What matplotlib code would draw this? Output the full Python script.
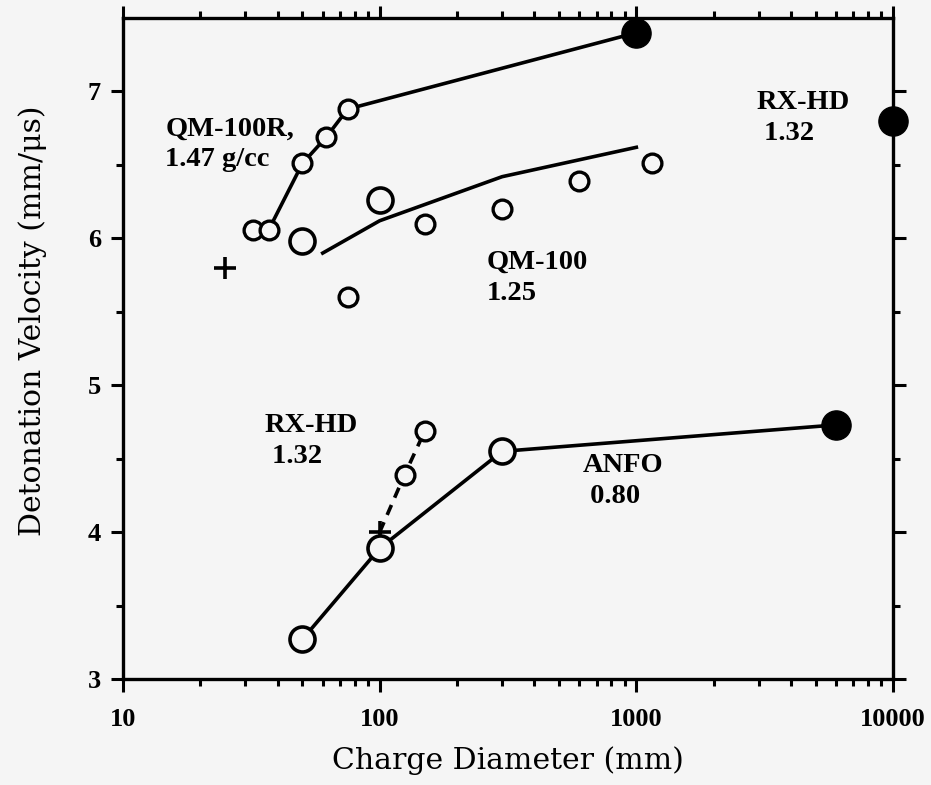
import matplotlib.pyplot as plt
from matplotlib.ticker import FixedLocator, NullFormatter

plt.rcParams['font.family'] = ['DejaVu Serif']

BG = '#f5f5f5'

# QM-100R, 1.47 g/cc (small open circles)
qm100r_d = [32, 37, 50, 62, 75]
qm100r_v = [6.06, 6.06, 6.51, 6.69, 6.88]
# solid line through QM-100R to the filled point at 1000 mm
qm100r_line_d = [37, 50, 62, 75, 1000]
qm100r_line_v = [6.06, 6.51, 6.69, 6.88, 7.40]
qm100r_big_d = [1000]
qm100r_big_v = [7.40]

# QM-100, 1.25 g/cc
qm100_large_d = [50, 100]
qm100_large_v = [5.98, 6.26]
qm100_small_d = [75, 150, 300, 600, 1150]
qm100_small_v = [5.60, 6.10, 6.20, 6.39, 6.51]
qm100_fit_d = [60, 100, 300, 1000]
qm100_fit_v = [5.90, 6.12, 6.42, 6.62]

# single cross near 25 mm
cross_d = [25]
cross_v = [5.80]

# RX-HD 1.32 (large scale)
rxhd_big_d = [10000]
rxhd_big_v = [6.80]

# RX-HD 1.32 (small charges, dashed)
rxhd_d = [100, 125, 150]
rxhd_v = [4.00, 4.39, 4.69]

# ANFO 0.80
anfo_d = [50, 100, 300]
anfo_v = [3.27, 3.89, 4.55]
anfo_big_d = [6000]
anfo_big_v = [4.73]

fig = plt.figure(figsize=(9.31, 7.85), dpi=100, facecolor=BG)
ax = fig.add_axes([0.1321, 0.135, 0.8271, 0.842])
ax.set_facecolor(BG)

lw = 2.6
open_small = dict(marker='o', ms=13.5, mfc=BG, mec='black', mew=2.4, ls='none', zorder=4)
open_large = dict(marker='o', ms=18, mfc=BG, mec='black', mew=2.6, ls='none', zorder=4)
filled = dict(marker='o', ms=21, mfc='black', mec='black', ls='none', zorder=4)

# QM-100R
ax.plot(qm100r_line_d, qm100r_line_v, color='black', lw=lw, zorder=2)
ax.plot(qm100r_d, qm100r_v, **open_small)
ax.plot(qm100r_big_d, qm100r_big_v, **filled)

# QM-100
ax.plot(qm100_fit_d, qm100_fit_v, color='black', lw=lw, zorder=2)
ax.plot(qm100_large_d, qm100_large_v, **open_large)
ax.plot(qm100_small_d, qm100_small_v, **open_small)

ax.plot(cross_d, cross_v, marker='+', ms=16, mew=2.6, color='black', ls='none')

# RX-HD
ax.plot(rxhd_big_d, rxhd_big_v, clip_on=False, **filled)
ax.plot(rxhd_d, rxhd_v, color='black', lw=lw, ls=(0, (3, 2.2)), zorder=2)
ax.plot(rxhd_d[:1], rxhd_v[:1], marker='+', ms=16, mew=2.6, color='black', ls='none')
ax.plot(rxhd_d[1:], rxhd_v[1:], **open_small)

# ANFO
ax.plot(anfo_d + anfo_big_d, anfo_v + anfo_big_v, color='black', lw=lw, zorder=2)
ax.plot(anfo_d, anfo_v, **open_large)
ax.plot(anfo_big_d, anfo_big_v, **filled)

# labels in the plot
tkw = dict(fontsize=20.5, fontweight='bold', family='Liberation Serif', color='black',
           ha='left', va='center', linespacing=1.3)
ax.text(14.6, 6.64, 'QM-100R,\n1.47 g/cc', **tkw)
ax.text(262, 5.73, 'QM-100\n1.25', **tkw)
ax.text(35.7, 4.62, 'RX-HD\n 1.32', **tkw)
ax.text(620, 4.35, 'ANFO\n 0.80', **tkw)
ax.text(2950, 6.82, 'RX-HD\n 1.32', **tkw)

ax.set_xscale('log')
ax.set_xlim(10, 10000)
ax.set_ylim(3, 7.5)

ax.set_xticks([10, 100, 1000, 10000])
ax.set_xticklabels(['10', '100', '1000', '10000'])
ax.xaxis.set_minor_locator(FixedLocator(
    [m * 10 ** e for e in range(1, 4) for m in range(2, 10)]))
ax.xaxis.set_minor_formatter(NullFormatter())
ax.set_yticks([3, 4, 5, 6, 7])
ax.set_yticks([3.5, 4.5, 5.5, 6.5], minor=True)

ax.tick_params(which='both', direction='out', top=True, right=True, width=2.2,
               color='black')
ax.tick_params(which='major', length=9, labelsize=19)
ax.tick_params(axis='x', which='major', pad=12)
ax.tick_params(axis='y', which='major', pad=7)
ax.tick_params(which='minor', length=5)
for lab in ax.get_xticklabels() + ax.get_yticklabels():
    lab.set_fontweight('bold')
    lab.set_family('Liberation Serif')

for s in ax.spines.values():
    s.set_linewidth(2.4)

ax.set_xlabel('Charge Diameter (mm)', fontsize=21.5, labelpad=11)
ax.set_ylabel('Detonation Velocity (mm/\u03bcs)', fontsize=21.5)
ax.yaxis.set_label_coords(-0.099, 0.542)

fig.savefig('out.png', dpi=100, facecolor=BG)
